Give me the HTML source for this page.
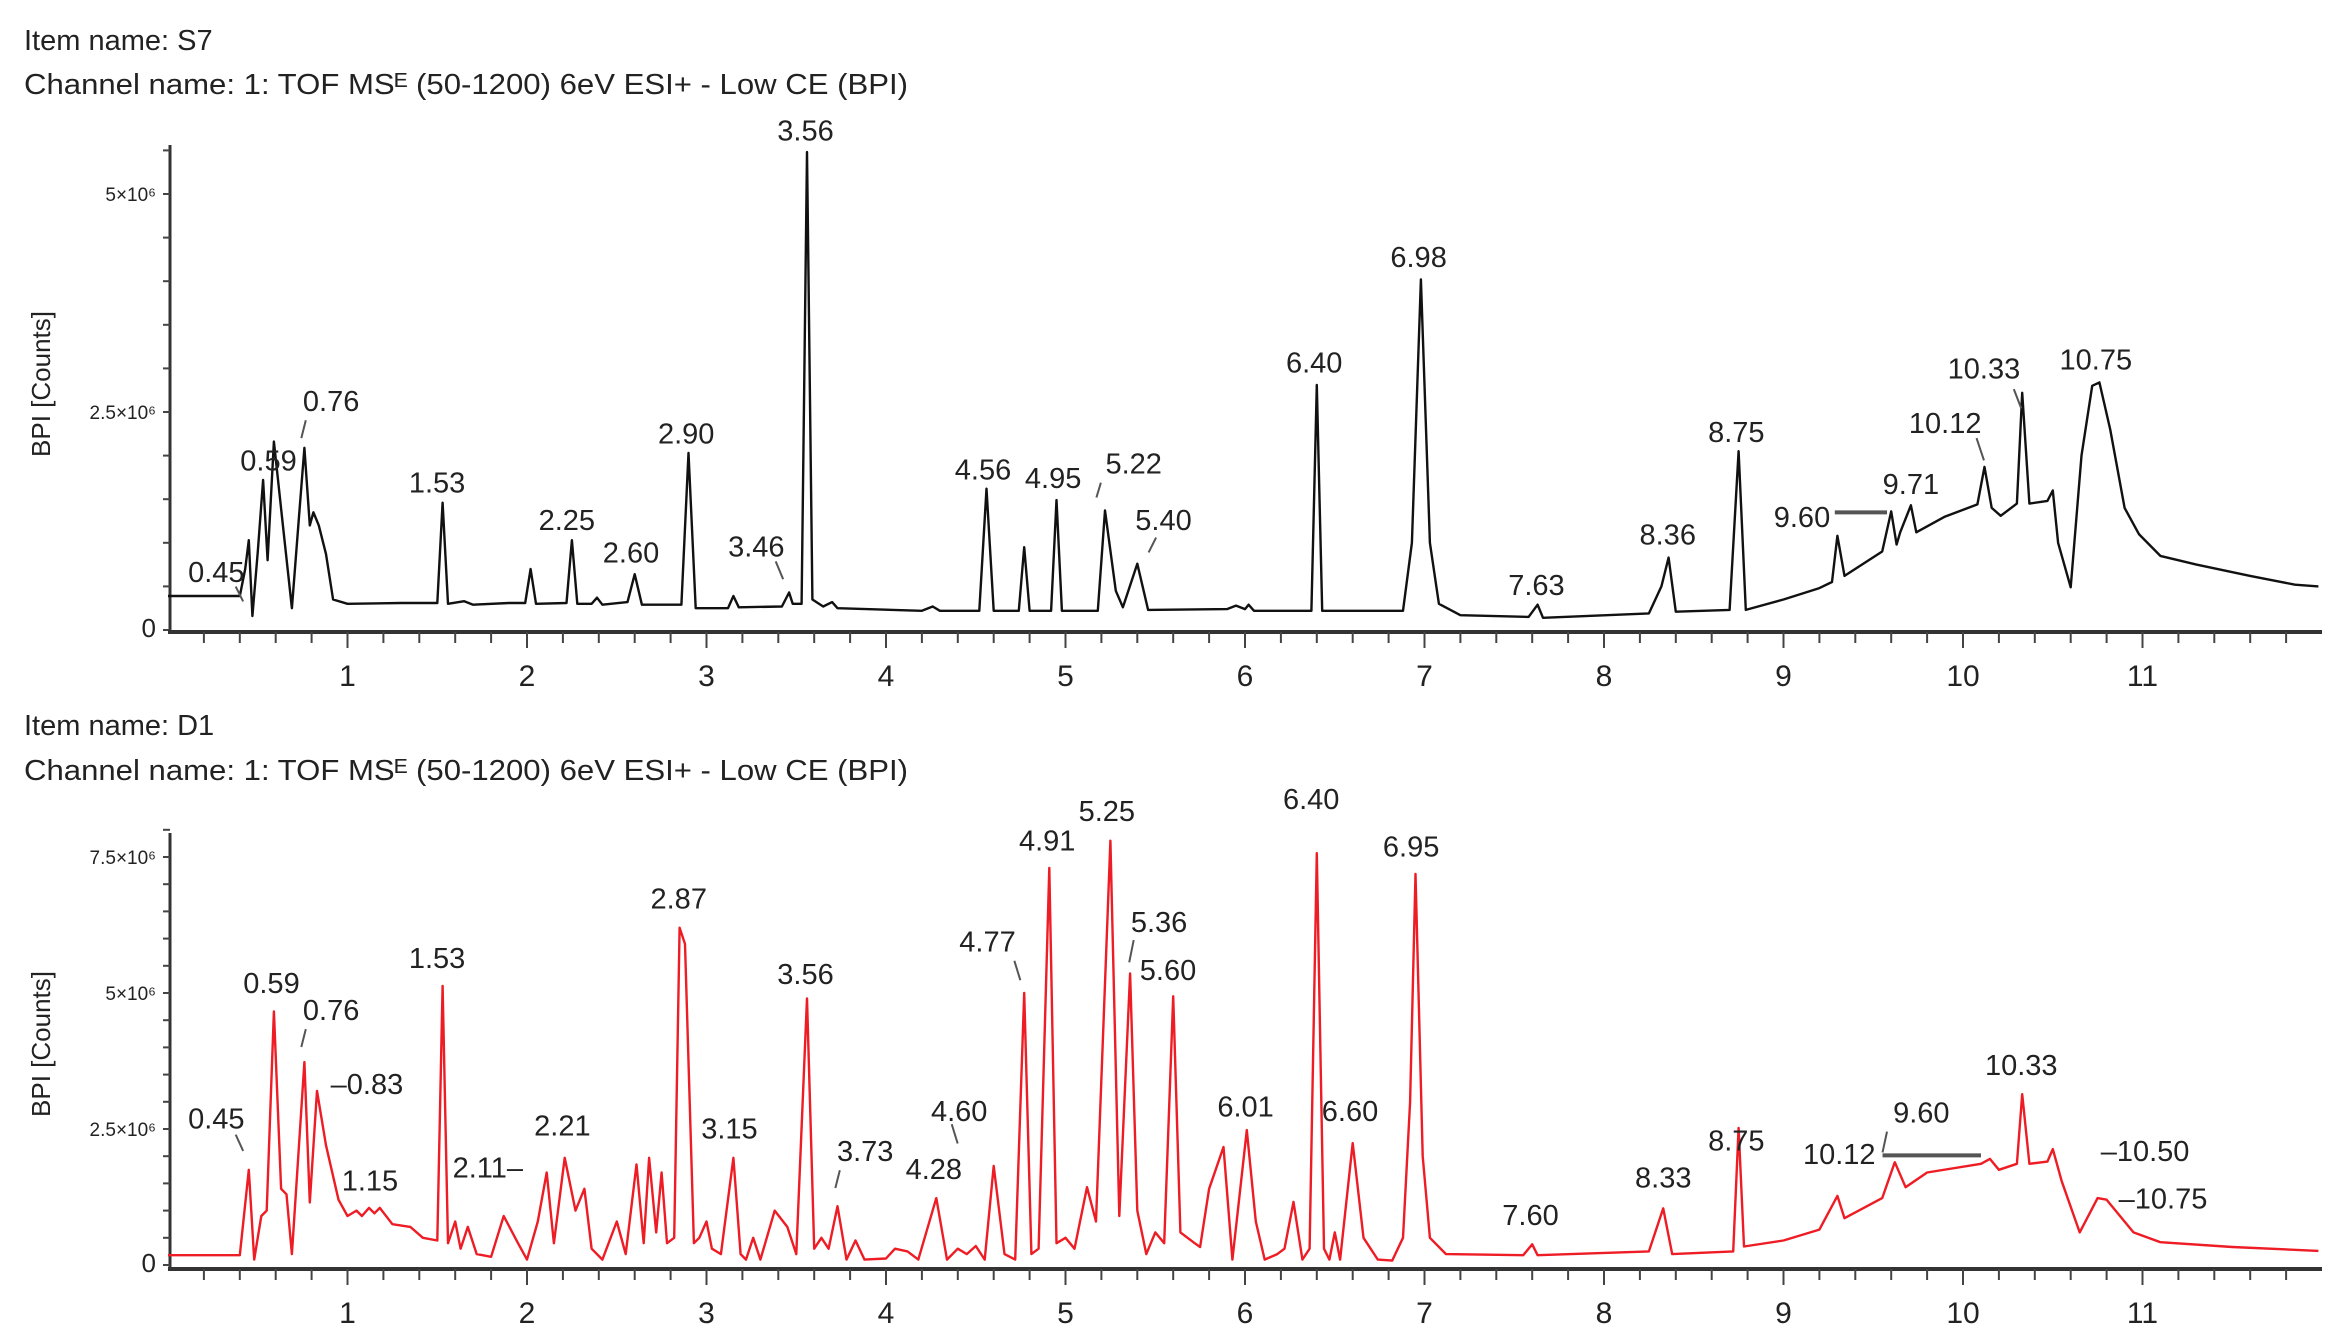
<!DOCTYPE html>
<html><head><meta charset="utf-8">
<style>
html,body{margin:0;padding:0;background:#fff;}
svg{display:block;font-family:"Liberation Sans","DejaVu Sans",sans-serif;}
</style></head>
<body>
<svg id="chart" width="2339" height="1344" viewBox="0 0 2339 1344" xmlns="http://www.w3.org/2000/svg">
<rect width="2339" height="1344" fill="#fff"/>
<text x="24" y="50" font-size="29" fill="#222">Item name: S7</text>
<text x="24" y="94" font-size="29" fill="#222" textLength="884" lengthAdjust="spacingAndGlyphs">Channel name: 1: TOF MSᴱ (50-1200) 6eV ESI+ - Low CE (BPI)</text>
<text x="24" y="735" font-size="29" fill="#222">Item name: D1</text>
<text x="24" y="780" font-size="29" fill="#222" textLength="884" lengthAdjust="spacingAndGlyphs">Channel name: 1: TOF MSᴱ (50-1200) 6eV ESI+ - Low CE (BPI)</text>
<g id="top"></g>
<g id="bot"></g>
</svg>
<script>
// ---- data: top chromatogram (S7), time (min) and BPI (x1e6 counts)
const topTimes = [0,0.40,0.43,0.45,0.47,0.50,0.53,0.555,0.59,0.64,0.69,0.73,0.76,0.79,0.81,0.84,0.88,0.92,1.0,1.3,1.50,1.53,1.56,1.65,1.7,1.9,1.99,2.02,2.05,2.22,2.25,2.28,2.36,2.39,2.42,2.56,2.60,2.64,2.86,2.90,2.94,3.12,3.15,3.18,3.42,3.46,3.48,3.53,3.56,3.59,3.65,3.70,3.73,4.2,4.26,4.3,4.52,4.56,4.60,4.74,4.77,4.80,4.92,4.95,4.98,5.18,5.22,5.28,5.32,5.40,5.46,5.9,5.95,6.0,6.02,6.05,6.37,6.40,6.43,6.88,6.93,6.98,7.03,7.08,7.2,7.58,7.63,7.66,8.25,8.32,8.36,8.40,8.70,8.75,8.79,9.0,9.20,9.27,9.30,9.34,9.55,9.60,9.63,9.65,9.71,9.74,9.9,10.08,10.12,10.16,10.21,10.30,10.33,10.37,10.47,10.50,10.53,10.60,10.66,10.72,10.76,10.82,10.90,10.98,11.1,11.3,11.6,11.85,11.98];
const topValues = [.39,.39,.7,1.03,.16,.9,1.72,.8,2.16,1.2,.25,1.3,2.09,1.2,1.35,1.2,.87,.35,.3,.31,.31,1.46,.3,.33,.29,.31,.31,.70,.30,.31,1.03,.3,.30,.37,.29,.32,.64,.29,.29,2.03,.25,.25,.39,.26,.27,.43,.30,.3,5.48,.35,.27,.32,.25,.22,.27,.22,.22,1.62,.22,.22,.95,.22,.22,1.49,.22,.22,1.37,.45,.26,.76,.23,.24,.28,.24,.29,.22,.22,2.81,.22,.22,1.0,4.02,1.0,.3,.17,.15,.29,.14,.19,.5,.83,.21,.23,2.05,.23,.35,.48,.55,1.08,.62,.9,1.36,.98,1.12,1.43,1.12,1.3,1.44,1.87,1.4,1.31,1.45,2.72,1.45,1.48,1.6,1.0,.49,2.0,2.80,2.84,2.3,1.4,1.1,.85,.75,.62,.52,.5];
// ---- data: bottom chromatogram (D1)
const botTimes = [0,.40,.45,.48,.52,.55,.59,.63,.66,.69,.76,.79,.83,.88,.95,1.0,1.05,1.08,1.12,1.15,1.18,1.25,1.35,1.42,1.50,1.53,1.56,1.60,1.63,1.67,1.72,1.80,1.87,1.95,2.0,2.06,2.11,2.15,2.21,2.27,2.32,2.36,2.42,2.50,2.55,2.61,2.65,2.68,2.72,2.75,2.78,2.82,2.85,2.88,2.93,2.96,3.00,3.03,3.08,3.15,3.19,3.22,3.26,3.30,3.38,3.45,3.50,3.56,3.60,3.64,3.68,3.73,3.78,3.83,3.88,4.0,4.05,4.12,4.18,4.28,4.34,4.40,4.45,4.50,4.55,4.60,4.66,4.72,4.77,4.81,4.85,4.91,4.95,5.0,5.05,5.12,5.17,5.25,5.30,5.36,5.40,5.45,5.50,5.55,5.60,5.64,5.72,5.75,5.80,5.88,5.93,6.01,6.06,6.11,6.18,6.22,6.27,6.32,6.36,6.40,6.44,6.47,6.50,6.53,6.60,6.66,6.74,6.82,6.88,6.92,6.95,6.99,7.03,7.12,7.55,7.60,7.63,8.25,8.33,8.38,8.72,8.75,8.78,9.0,9.2,9.30,9.34,9.55,9.62,9.68,9.8,10.1,10.15,10.2,10.3,10.33,10.37,10.47,10.50,10.55,10.65,10.75,10.80,10.95,11.1,11.5,11.98];
const botValues = [.18,.18,1.75,.1,.9,1.0,4.66,1.4,1.3,.2,3.73,1.15,3.2,2.2,1.2,.9,1.0,.9,1.05,.95,1.05,.75,.7,.5,.45,5.13,.4,.8,.3,.7,.2,.15,.9,.4,.1,.8,1.7,.4,1.97,1.0,1.4,.3,.1,.8,.2,1.85,.4,1.97,.6,1.7,.4,.5,6.2,5.9,.4,.5,.8,.3,.2,1.97,.2,.1,.5,.1,1.0,.7,.2,4.9,.3,.5,.3,1.08,.1,.45,.1,.12,.3,.25,.1,1.23,.1,.3,.2,.35,.1,1.82,.2,.1,5.0,.2,.3,7.3,.4,.5,.3,1.43,.8,7.8,.9,5.36,1.0,.2,.6,.4,4.94,.6,.4,.33,1.4,2.17,.1,2.48,.8,.1,.2,.3,1.16,.1,.3,7.57,.3,.1,.6,.1,2.24,.5,.1,.08,.5,3,7.19,2.0,.5,.2,.18,.38,.18,.25,1.04,.2,.25,2.52,.34,.45,.65,1.27,.86,1.23,1.89,1.43,1.7,1.86,1.95,1.75,1.86,3.14,1.86,1.9,2.13,1.54,.6,1.23,1.2,.6,.42,.33,.26];
const xTickLabels = ["1","2","3","4","5","6","7","8","9","10","11"];
const topYTicks = [0,2.5,5];
const topYTickLabels = ["0","2.5×10⁶","5×10⁶"];
const botYTicks = [0,2.5,5,7.5];
const botYTickLabels = ["0","2.5×10⁶","5×10⁶","7.5×10⁶"];
const topPeakLabels = ["0.45","0.59","0.76","1.53","2.25","2.60","2.90","3.46","3.56","4.56","4.95","5.22","5.40","6.40","6.98","7.63","8.36","8.75","9.60","9.71","10.12","10.33","10.75"];
const botPeakLabels = ["0.45","0.59","0.76","‒0.83","1.15","1.53","2.11‒","2.21","2.87","3.15","3.56","3.73","4.28","4.60","4.77","4.91","5.25","5.36","5.60","6.01","6.40","6.60","6.95","7.60","8.33","8.75","9.60","10.12","10.33","‒10.50","‒10.75"];
// label placement (display-scale annotation coordinates)
const topLabelPos = [[145,385],[180,310],[222,270],[293,325],[380,350],[423,372],[460,292],[507,368],[540,88],[659,316],[706,322],[760,312],[780,350],[881,244],[951,173],[1030,394],[1118,360],[1164,291],[1208,348],[1281,326],[1304,285],[1330,248],[1405,242]];
const botLabelPos = [[145,753],[182,662],[222,680],[246,730],[248,795],[293,645],[327,786],[377,758],[455,605],[489,760],[540,656],[580,775],[626,787],[643,748],[662,634],[702,566],[742,546],[777,621],[783,653],[835,745],[879,538],[905,748],[946,570],[1026,818],[1115,793],[1164,768],[1288,749],[1233,777],[1355,717],[1438,775],[1450,807]];

const NS = "http://www.w3.org/2000/svg";
const SX = 2339/1568, SY = 1344/905;
function mk(parent, tag, attrs){const e=document.createElementNS(NS,tag);for(const k in attrs)e.setAttribute(k,attrs[k]);parent.appendChild(e);return e;}

function drawChart(g, cfg){
  const x = t => 168 + 179.5*t;
  const y = v => cfg.zeroY - cfg.pxPer*v;
  const ya = mk(g,'line',{x1:170,y1:cfg.top,x2:170,y2:cfg.axisY,stroke:'#333','stroke-width':3});
  
  
  for(let v=0; v<=cfg.maxMinor+1e-9; v+=0.5){
    const tk = mk(g,'line',{x1:163,y1:y(v),x2:170,y2:y(v),stroke:'#444','stroke-width':2});
    
    
  }
  cfg.yTicks.forEach((v,i)=>{
    const tl = mk(g,'text',{x:156,y:y(v)+7,'font-size':(i===0?26:19),'text-anchor':'end',fill:'#222'});
    tl.textContent = cfg.yLabels[i];
    
    
  });
  const yt = mk(g,'text',{x:0,y:0,'font-size':26,'text-anchor':'middle',fill:'#222',transform:`translate(50,${cfg.titleY}) rotate(-90)`});
  yt.textContent = 'BPI [Counts]';
  
  
  const xa = mk(g,'line',{x1:168,y1:cfg.axisY,x2:2322,y2:cfg.axisY,stroke:'#333','stroke-width':4});
  
  
  for(let k=1;k<=59;k++){
    const t=k*0.2; const major = (k%5===0);
    const tk = mk(g,'line',{x1:x(t),y1:cfg.axisY,x2:x(t),y2:cfg.axisY+(major?16:11),stroke:'#444','stroke-width':2});
    
    
  }
  xTickLabels.forEach(s=>{
    const tl = mk(g,'text',{x:x(+s),y:cfg.axisY+54,'font-size':30,'text-anchor':'middle',fill:'#222'});
    tl.textContent = s;
    
    
  });
  const d = cfg.times.map((t,i)=>(i?'L':'M')+x(t).toFixed(1)+','+y(cfg.values[i]).toFixed(1)).join(' ');
  const p = mk(g,'path',{d:d,fill:'none',stroke:cfg.color,'stroke-width':2.4,'stroke-linejoin':'round'});
  
  
  cfg.labels.forEach((s,i)=>{
    const pos = cfg.labelPos[i];
    const tl = mk(g,'text',{x:pos[0]*SX,y:pos[1]*SY+10,'font-size':29,'text-anchor':'middle',fill:'#222'});
    tl.textContent = s;
    
    
  });
  cfg.leaders.forEach(l=>{
    const ln = mk(g,'line',{x1:l[0]*SX,y1:l[1]*SY,x2:l[2]*SX,y2:l[3]*SY,stroke:'#555','stroke-width':l[4]||2});
    
    
  });
}

drawChart(document.getElementById('top'),{id:'top',zeroY:630,pxPer:87.2,axisY:632,top:145,maxMinor:5.5,
  yTicks:topYTicks,yLabels:topYTickLabels,titleY:384,times:topTimes,values:topValues,color:'#111',
  labels:topPeakLabels,labelPos:topLabelPos,
  leaders:[[158,395,163,405],[205,283,202,295],[520,378,525,390],[738,325,735,335],[775,362,770,372],[1230,345,1265,345,4],[1325,295,1330,310],[1350,262,1355,275]]});
drawChart(document.getElementById('bot'),{id:'bot',zeroY:1265,pxPer:54.4,axisY:1269,top:833,maxMinor:8,
  yTicks:botYTicks,yLabels:botYTickLabels,titleY:1044,times:botTimes,values:botValues,color:'#ee1c24',
  labels:botPeakLabels,labelPos:botLabelPos,
  leaders:[[158,764,163,775],[205,693,202,705],[563,788,560,800],[638,757,642,770],[680,647,684,660],[760,633,757,648],[1262,778,1328,778,4],[1265,762,1262,776]]});
</script>
</body></html>
